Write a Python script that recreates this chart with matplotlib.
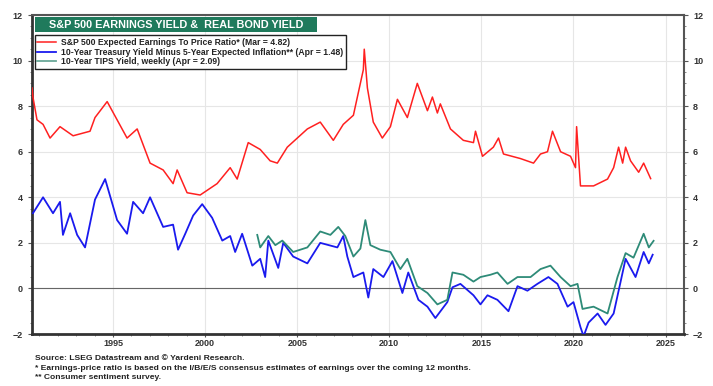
import matplotlib
matplotlib.use('Agg')
import matplotlib.pyplot as plt
from matplotlib.patches import Rectangle
from matplotlib.ticker import MultipleLocator

plt.rcParams['font.family'] = ['Liberation Sans', 'DejaVu Sans']

# S&P 500 expected earnings to price ratio (%)
ey_years = [1990.6, 1990.65, 1990.87, 1991.2, 1991.58, 1992.12, 1992.83, 1993.75, 1994.02,
            1994.68, 1995.76, 1996.31, 1997.01, 1997.72, 1998.26, 1998.48, 1999.02, 1999.73,
            2000.65, 2001.36, 2001.74, 2002.34, 2002.99, 2003.53, 2003.92, 2004.46, 2005.55,
            2006.25, 2006.96, 2007.50, 2008.05, 2008.59, 2008.64, 2008.81, 2009.13, 2009.62,
            2010.06, 2010.44, 2010.98, 2011.52, 2012.07, 2012.34, 2012.61, 2012.77, 2013.32,
            2014.02, 2014.57, 2014.68, 2015.06, 2015.65, 2015.93, 2016.20, 2017.12, 2017.83,
            2018.21, 2018.59, 2018.86, 2019.30, 2019.84, 2020.11, 2020.17, 2020.38, 2021.09,
            2021.85, 2022.18, 2022.45, 2022.67, 2022.83, 2023.10, 2023.54, 2023.81, 2024.19]
ey_vals = [8.8, 8.4, 7.4, 7.2, 6.6, 7.1, 6.7, 6.9, 7.5,
           8.2, 6.6, 7.0, 5.5, 5.2, 4.6, 5.2, 4.2, 4.1,
           4.6, 5.3, 4.8, 6.4, 6.1, 5.6, 5.5, 6.2, 7.0,
           7.3, 6.5, 7.2, 7.6, 9.6, 10.5, 8.8, 7.3, 6.6,
           7.1, 8.3, 7.5, 9.0, 7.8, 8.4, 7.7, 8.1, 7.0,
           6.5, 6.4, 6.9, 5.8, 6.2, 6.6, 5.9, 5.7, 5.5,
           5.9, 6.0, 6.9, 6.0, 5.8, 5.3, 7.1, 4.5, 4.5,
           4.8, 5.3, 6.2, 5.5, 6.2, 5.6, 5.1, 5.5, 4.82]

# 10-year Treasury yield minus 5-year expected inflation (%)
ry_years = [1990.65, 1991.2, 1991.74, 1992.12, 1992.28, 1992.67, 1993.05, 1993.48, 1994.02,
            1994.57, 1995.22, 1995.76, 1996.09, 1996.63, 1997.01, 1997.72, 1998.26, 1998.53,
            1998.92, 1999.35, 1999.84, 2000.38, 2000.93, 2001.36, 2001.63, 2002.01, 2002.56,
            2002.99, 2003.26, 2003.43, 2003.97, 2004.24, 2004.78, 2005.55, 2006.25, 2007.18,
            2007.50, 2007.72, 2008.05, 2008.59, 2008.86, 2009.13, 2009.68, 2010.17, 2010.71,
            2011.03, 2011.58, 2012.07, 2012.50, 2013.15, 2013.43, 2013.86, 2014.57, 2014.95,
            2015.33, 2015.87, 2016.47, 2016.96, 2017.50, 2018.04, 2018.64, 2019.13, 2019.68,
            2020.00, 2020.38, 2020.55, 2020.82, 2021.31, 2021.74, 2022.18, 2022.56, 2022.83,
            2023.37, 2023.81, 2024.09, 2024.30]
ry_vals = [3.3, 4.0, 3.3, 3.8, 2.35, 3.3, 2.35, 1.8, 3.9,
           4.8, 3.0, 2.4, 3.8, 3.3, 4.0, 2.7, 2.8, 1.7,
           2.4, 3.2, 3.7, 3.1, 2.1, 2.3, 1.6, 2.4, 1.0,
           1.3, 0.5, 2.1, 0.9, 2.0, 1.4, 1.1, 2.0, 1.8,
           2.3, 1.4, 0.5, 0.7, -0.4, 0.85, 0.5, 1.2, -0.2,
           0.7, -0.5, -0.8, -1.3, -0.6, 0.05, 0.2, -0.3, -0.7,
           -0.3, -0.5, -1.0, 0.1, -0.1, 0.2, 0.5, 0.2, -0.8,
           -0.6, -1.7, -2.1, -1.5, -1.1, -1.6, -1.1, 0.3, 1.3,
           0.5, 1.6, 1.1, 1.48]

# 10-year TIPS yield, weekly (%)
tips_years = [2002.83, 2002.99, 2003.43, 2003.81, 2004.19, 2004.78, 2005.55, 2006.25, 2006.80,
              2007.23, 2007.61, 2008.05, 2008.43, 2008.70, 2008.97, 2009.51, 2010.06, 2010.60,
              2010.98, 2011.52, 2012.07, 2012.61, 2013.15, 2013.43, 2014.02, 2014.57, 2014.95,
              2015.49, 2015.87, 2016.42, 2016.96, 2017.67, 2018.21, 2018.75, 2019.30, 2019.84,
              2020.22, 2020.49, 2021.09, 2021.85, 2022.39, 2022.83, 2023.26, 2023.81, 2024.09,
              2024.35]
tips_vals = [2.35, 1.8, 2.3, 1.9, 2.1, 1.6, 1.8, 2.5, 2.35,
             2.7, 2.3, 1.4, 1.75, 3.0, 1.9, 1.7, 1.6, 0.85,
             1.3, 0.1, -0.2, -0.7, -0.5, 0.7, 0.6, 0.3, 0.5,
             0.6, 0.7, 0.2, 0.5, 0.5, 0.85, 1.0, 0.5, 0.1,
             0.2, -0.9, -0.8, -1.1, 0.5, 1.55, 1.35, 2.4, 1.8,
             2.09]

labels = ["S&P 500 Expected Earnings To Price Ratio* (Mar = 4.82)",
          "10-Year Treasury Yield Minus 5-Year Expected Inflation** (Apr = 1.48)",
          "10-Year TIPS Yield, weekly (Apr = 2.09)"]
xticks = [1995, 2000, 2005, 2010, 2015, 2020, 2025]

fig = plt.figure(figsize=(7.13, 3.86), dpi=100)
ax = fig.add_axes([0.0449, 0.1347, 0.9144, 0.8264])

ax.plot(ey_years, ey_vals, color='#ff2020', lw=1.1, label=labels[0], zorder=3)
ax.plot(ry_years, ry_vals, color='#1a1aee', lw=1.3, label=labels[1], zorder=3)
ax.plot(tips_years, tips_vals, color='#2e8b78', lw=1.3, label=labels[2], zorder=4)

ax.set_xlim(1990.6, 2026.0)
ax.set_ylim(-2, 12)
ax.set_xticks(xticks)
ax.set_yticks(range(-2, 13, 2))
ax.yaxis.set_minor_locator(MultipleLocator(0.5))
ax.xaxis.set_minor_locator(MultipleLocator(1))
ax.grid(True, which='major', color='#e6e6e6', lw=0.8, zorder=0)
ax.axhline(0, color='#666666', lw=0.8, zorder=2)

ax.tick_params(axis='both', which='major', labelsize=6.5, labelcolor='#333333',
               length=3, width=0.8, color='#555555')
ax.tick_params(axis='x', which='major', pad=1.5, length=2)
ax.tick_params(axis='both', which='minor', length=1.5, width=0.6, color='#777777')
ax.tick_params(axis='y', which='both', left=True, right=True, labelleft=True, labelright=True)
for lab in ax.get_xticklabels() + ax.get_yticklabels():
    lab.set_fontweight('bold')

for s in ['left', 'bottom']:
    ax.spines[s].set_linewidth(2)
    ax.spines[s].set_color('#333333')
for s in ['top', 'right']:
    ax.spines[s].set_linewidth(1.5)
    ax.spines[s].set_color('#555555')

# title box
ax.add_patch(Rectangle((0.005, 0.947), 0.4325, 0.047, transform=ax.transAxes,
                       facecolor='#1f7a5c', edgecolor='none', zorder=5))
ax.text(0.2212, 0.970, "S&P 500 EARNINGS YIELD &  REAL BOND YIELD", transform=ax.transAxes,
        ha='center', va='center', color='white', fontsize=7.8, fontweight='bold', zorder=6)

leg = ax.legend(loc='upper left', bbox_to_anchor=(0.004, 0.936), fontsize=6.2,
                frameon=True, fancybox=False, edgecolor='#222222', framealpha=1,
                handlelength=2.2, handletextpad=0.6, borderpad=0.3, labelspacing=0.08,
                borderaxespad=0)
leg.get_frame().set_linewidth(1.0)
leg.set_zorder(6)
for t in leg.get_texts():
    t.set_fontweight('bold')
    t.set_color('#222222')
leg.get_lines()[2].set_color('#6aa898')

fig.text(0.049, 0.0725, "Source: LSEG Datastream and \u00a9 Yardeni Research.",
         fontsize=6.1, fontweight='bold', color='#222222', va='center')
fig.text(0.049, 0.0466, "* Earnings-price ratio is based on the I/B/E/S consensus estimates of earnings over the coming 12 months.",
         fontsize=6.1, fontweight='bold', color='#222222', va='center')
fig.text(0.049, 0.0220, "** Consumer sentiment survey.",
         fontsize=6.1, fontweight='bold', color='#222222', va='center')

plt.savefig('out.png', dpi=100)
